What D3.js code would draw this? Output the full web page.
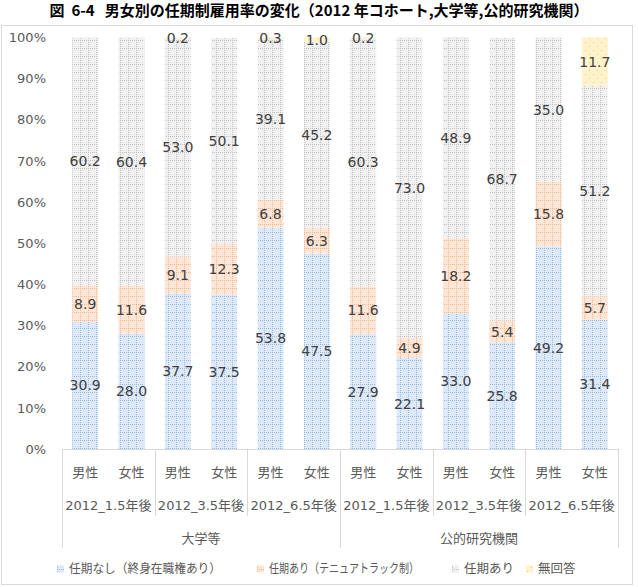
<!DOCTYPE html>
<html>
<head>
<meta charset="utf-8">
<script src="https://cdn.jsdelivr.net/npm/d3@7"></script>
<style>
  body { margin: 0; background: #fff; }
  text { font-family: "DejaVu Sans", "Noto Sans CJK JP", sans-serif; }
</style>
</head>
<body>
<script>
// categories (3 levels)
const sexes = ['男性', '女性'];
const periods = ['2012_1.5年後', '2012_3.5年後', '2012_6.5年後'];
const institutions = ['大学等', '公的研究機関'];

const seriesNames = ['任期なし（終身在職権あり）', '任期あり（テニュアトラック制）', '任期あり', '無回答'];

// values in %, one per bar (institution > period > sex)
const noTenure    = [30.9, 28.0, 37.7, 37.5, 53.8, 47.5, 27.9, 22.1, 33.0, 25.8, 49.2, 31.4];
const tenureTrack = [8.9, 11.6, 9.1, 12.3, 6.8, 6.3, 11.6, 4.9, 18.2, 5.4, 15.8, 5.7];
const fixedTerm   = [60.2, 60.4, 53.0, 50.1, 39.1, 45.2, 60.3, 73.0, 48.9, 68.7, 35.0, 51.2];
const noAnswer    = [0, 0, 0.2, 0, 0.3, 1.0, 0.2, 0, 0, 0, 0, 11.7];

const yTicks = [0, 10, 20, 30, 40, 50, 60, 70, 80, 90, 100];

const W = 638, H = 587;
const plot = {left: 62, right: 618, top: 37.5, bottom: 449};

const rows = [];
institutions.forEach((inst) => {
  periods.forEach((p) => {
    sexes.forEach((s) => {
      const i = rows.length;
      rows.push({
        id: i, inst, period: p, sex: s,
        noTenure: noTenure[i], tenureTrack: tenureTrack[i],
        fixedTerm: fixedTerm[i], noAnswer: noAnswer[i]
      });
    });
  });
});
const keys = ['noTenure', 'tenureTrack', 'fixedTerm', 'noAnswer'];

const svg = d3.select('body').append('svg')
  .attr('width', W).attr('height', H);

// patterns: excel-ish dotted grid fills
const defs = svg.append('defs');
const pats = [
  {id: 'p0', bg: '#dde9f8', dot: '#93b9e6', grid: true},
  {id: 'p1', bg: '#fde6d6', dot: '#f4b58d', grid: true},
  {id: 'p2', bg: '#f0f0f0', dot: '#c0c0c0', grid: true},
  {id: 'p3', bg: '#fff2cc', dot: '#f5c94a', grid: false}
];
pats.forEach((p) => {
  const pt = defs.append('pattern').attr('id', p.id)
    .attr('patternUnits', 'userSpaceOnUse')
    .attr('width', 8).attr('height', 8);
  pt.append('rect').attr('width', 8).attr('height', 8).attr('fill', p.bg);
  const dots = p.grid
    ? [[0,0],[0,2],[0,4],[0,6],[2,0],[4,0],[6,0]]
    : [[1,2],[5,6]];
  dots.forEach(([x, y]) => pt.append('rect')
    .attr('x', x).attr('y', y).attr('width', 1).attr('height', 1)
    .attr('fill', p.dot));
});

// outer border
svg.append('rect')
  .attr('x', 1.5).attr('y', 25.5).attr('width', 631).attr('height', 559)
  .attr('fill', 'none').attr('stroke', '#d9d9d9');

// title
svg.append('text')
  .attr('x', W / 2).attr('y', 16)
  .attr('text-anchor', 'middle')
  .style('font-family', '"Noto Sans CJK JP", sans-serif')
  .style('font-size', '15px').style('font-weight', 'bold')
  .attr('fill', '#000')
  .attr('xml:space', 'preserve')
  .text('図  6-4   男女別の任期制雇用率の変化（2012 年コホート,大学等,公的研究機関）');

const x = d3.scaleBand()
  .domain(rows.map((d) => d.id))
  .range([plot.left, plot.right])
  .paddingInner(0.44).paddingOuter(0.22);

const y = d3.scaleLinear().domain([0, 100]).range([plot.bottom, plot.top]);

// y axis
const yAxis = svg.append('g')
  .attr('transform', `translate(${plot.left - 13},0)`)
  .call(d3.axisLeft(y).tickValues(yTicks).tickSize(0).tickFormat((d) => d + '%'));
yAxis.select('.domain').remove();
yAxis.selectAll('text')
  .style('font-size', '13px')
  .style('font-family', '"DejaVu Sans", sans-serif')
  .attr('fill', '#595959');

const stack = d3.stack().keys(keys)(rows);

const layers = svg.append('g').selectAll('g')
  .data(stack).join('g')
  .attr('fill', (d, i) => `url(#p${i})`);

layers.selectAll('rect')
  .data((d) => d.filter((s) => s[1] - s[0] > 0))
  .join('rect')
  .attr('x', (d) => x(d.data.id))
  .attr('width', x.bandwidth())
  .attr('y', (d) => y(d[1]))
  .attr('height', (d) => y(d[0]) - y(d[1]));

// data labels
const labels = svg.append('g');
stack.forEach((layer) => {
  layer.forEach((s) => {
    const v = s[1] - s[0];
    if (v <= 0) return;
    labels.append('text')
      .attr('x', x(s.data.id) + x.bandwidth() / 2)
      .attr('y', y((s[0] + s[1]) / 2))
      .attr('dy', '0.36em')
      .attr('text-anchor', 'middle')
      .style('font-size', '14px')
      .attr('fill', '#404040')
      .text(d3.format('.1f')(s.data[layer.key]));
  });
});

// multi-level category axis
const axisColor = '#d9d9d9';
const ax = svg.append('g').attr('stroke', axisColor).attr('stroke-width', 1);
ax.append('line')
  .attr('x1', plot.left).attr('x2', plot.right)
  .attr('y1', plot.bottom + 0.5).attr('y2', plot.bottom + 0.5);

const step = x.step();
const groupW = step * sexes.length;
const instW = groupW * periods.length;
const yRow1 = 472, yRow2 = 505, yRow3 = 538;

// period separators
d3.range(1, periods.length * institutions.length).forEach((g) => {
  if (g % periods.length === 0) return;
  const gx = Math.round(plot.left + g * groupW) + 0.5;
  ax.append('line').attr('x1', gx).attr('x2', gx)
    .attr('y1', plot.bottom).attr('y2', 516);
});
// institution separators incl. outer edges
d3.range(0, institutions.length + 1).forEach((k) => {
  const gx = Math.round(plot.left + k * instW) + 0.5;
  ax.append('line').attr('x1', gx).attr('x2', gx)
    .attr('y1', plot.bottom).attr('y2', 548);
});

const catText = svg.append('g')
  .attr('text-anchor', 'middle')
  .attr('fill', '#595959')
  .style('font-size', '13px');

rows.forEach((d) => {
  catText.append('text')
    .attr('x', x(d.id) + x.bandwidth() / 2).attr('y', yRow1).attr('dy', '0.35em')
    .text(d.sex);
});
d3.range(periods.length * institutions.length).forEach((g) => {
  catText.append('text')
    .attr('x', plot.left + (g + 0.5) * groupW).attr('y', yRow2).attr('dy', '0.35em')
    .text(periods[g % periods.length]);
});
institutions.forEach((inst, k) => {
  catText.append('text')
    .attr('x', plot.left + (k + 0.5) * instW).attr('y', yRow3).attr('dy', '0.35em')
    .text(inst);
});

// legend
const legendX = [57, 257, 452, 526];
const legendLen = [152, 150, null, null];
const legend = svg.append('g');
seriesNames.forEach((name, i) => {
  const g = legend.append('g').attr('transform', `translate(${legendX[i]},569)`);
  g.append('rect').attr('x', 0).attr('y', -3.5).attr('width', 7).attr('height', 7)
    .attr('fill', `url(#p${i})`);
  const t = g.append('text').attr('x', 12).attr('dy', '0.35em')
    .style('font-family', '"Noto Sans CJK JP", sans-serif')
    .style('font-size', '12.5px').attr('fill', '#595959')
    .text(name);
  if (legendLen[i]) t.attr('textLength', legendLen[i]).attr('lengthAdjust', 'spacingAndGlyphs');
});
</script>
</body>
</html>
